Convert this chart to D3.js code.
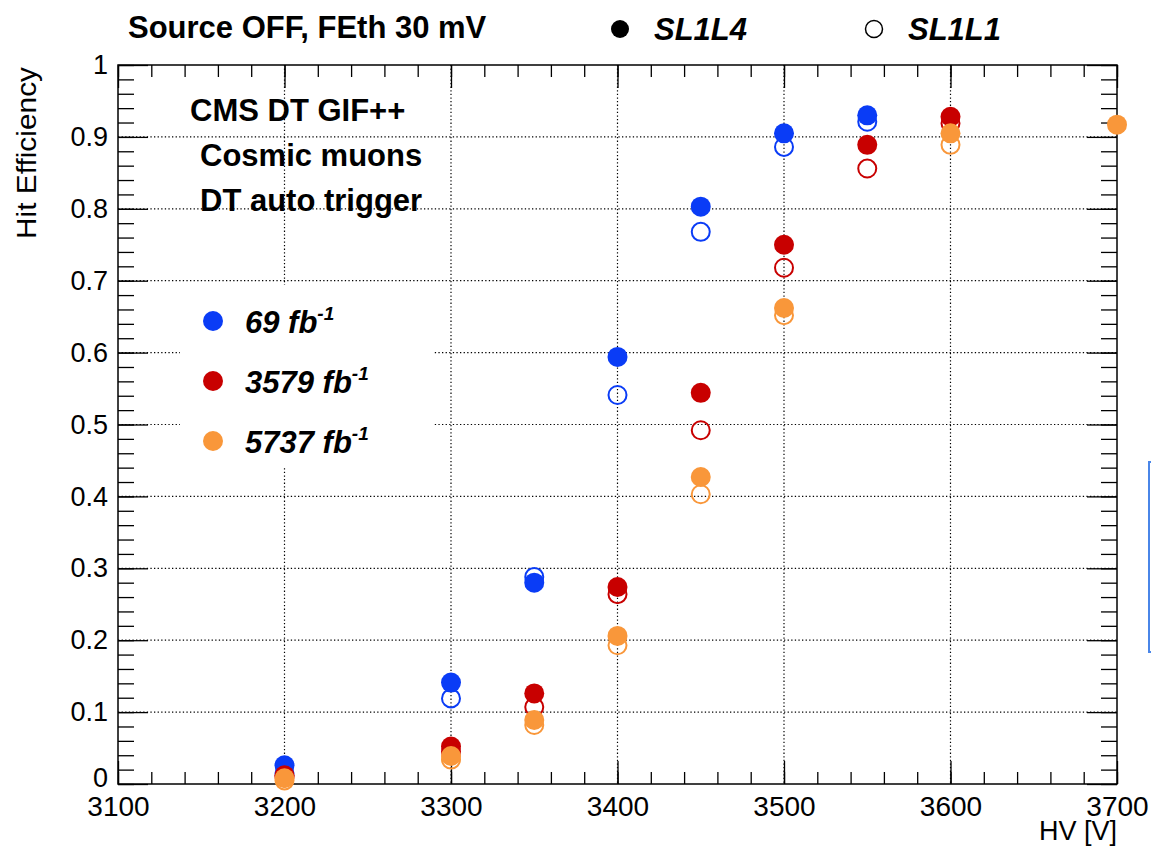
<!DOCTYPE html>
<html>
<head>
<meta charset="utf-8">
<script src="https://cdn.jsdelivr.net/npm/d3@7"></script>
<style>
  body { margin: 0; background: #fff; }
  svg text { font-family: "Liberation Sans", Arial, Helvetica, sans-serif; }
</style>
</head>
<body>
<div id="chart"></div>
<script>
// HV scan points (V)
const hv = [3200, 3300, 3350, 3400, 3450, 3500, 3550, 3600, 3700];

// hit efficiency, SL1L4 (filled) and SL1L1 (open), null = not measured
const eff69_L4   = [0.026, 0.141, 0.280, 0.594, 0.803, 0.905, 0.930, null, null];
const eff69_L1   = [0.015, 0.119, 0.288, 0.541, 0.768, 0.886, 0.921, null, null];
const eff3579_L4 = [0.012, 0.052, 0.126, 0.274, 0.544, 0.750, 0.889, 0.928, null];
const eff3579_L1 = [0.010, 0.045, 0.107, 0.264, 0.492, 0.718, 0.856, 0.919, null];
const eff5737_L4 = [0.008, 0.039, 0.089, 0.206, 0.427, 0.662, null, 0.905, 0.917];
const eff5737_L1 = [0.005, 0.034, 0.082, 0.193, 0.403, 0.652, null, 0.889, null];

const doseLabels = ["69", "3579", "5737"];
const doseColors = ["#0a3cf6", "#c80000", "#f9973a"];

const xMajor = [3100, 3200, 3300, 3400, 3500, 3600, 3700];
const yMajor = [0, 0.1, 0.2, 0.3, 0.4, 0.5, 0.6, 0.7, 0.8, 0.9, 1];

const W = 1151, H = 846;
const svg = d3.select("#chart").append("svg")
  .attr("width", W).attr("height", H)
  .style("background", "#fff");

const x = d3.scaleLinear().domain([3100, 3700]).range([118, 1117]);
const y = d3.scaleLinear().domain([0, 1]).range([784, 65]);

// dotted grid
const grid = svg.append("g").attr("class", "grid");
grid.selectAll("line.gx")
  .data(xMajor.slice(1, -1)).enter().append("line")
  .attr("x1", d => x(d)).attr("x2", d => x(d))
  .attr("y1", y(1)).attr("y2", y(0));
grid.selectAll("line.gy")
  .data(yMajor.slice(1, -1)).enter().append("line")
  .attr("x1", x(3100)).attr("x2", x(3700))
  .attr("y1", d => y(d)).attr("y2", d => y(d));
grid.selectAll("line")
  .attr("stroke", "#000").attr("stroke-width", 1.2)
  .attr("stroke-dasharray", "1.3,2.3");

// legend box hides the grid
svg.append("rect")
  .attr("x", 180).attr("y", 285).attr("width", 253).attr("height", 183)
  .attr("fill", "#fff");

// axes, ticks pointing inward
function styleAxis(g) {
  g.select(".domain").remove();
  g.selectAll(".tick line").attr("stroke", "#000").attr("stroke-width", 1.3);
}
const minorX = d3.range(3100, 3701, 20);
const minorY = d3.range(0, 51).map(i => i / 50);

svg.append("g").attr("transform", "translate(0," + y(0) + ")")
  .call(d3.axisBottom(x).tickValues(minorX).tickSize(-12).tickFormat(""))
  .call(styleAxis);
svg.append("g").attr("transform", "translate(0," + y(0) + ")")
  .call(d3.axisBottom(x).tickValues(xMajor).tickSize(-23).tickPadding(12).tickFormat(d3.format("d")))
  .call(styleAxis)
  .selectAll("text").attr("font-size", 28).attr("fill", "#000");
svg.append("g").attr("transform", "translate(0," + y(1) + ")")
  .call(d3.axisTop(x).tickValues(minorX).tickSize(-12).tickFormat(""))
  .call(styleAxis);
svg.append("g").attr("transform", "translate(0," + y(1) + ")")
  .call(d3.axisTop(x).tickValues(xMajor).tickSize(-23).tickFormat(""))
  .call(styleAxis);

svg.append("g").attr("transform", "translate(" + x(3100) + ",0)")
  .call(d3.axisLeft(y).tickValues(minorY).tickSize(-16).tickFormat(""))
  .call(styleAxis);
const yAx = svg.append("g").attr("transform", "translate(" + x(3100) + ",0)")
  .call(d3.axisLeft(y).tickValues(yMajor).tickSize(-30).tickPadding(10).tickFormat(d3.format("~g")))
  .call(styleAxis);
yAx.selectAll("text").attr("font-size", 27).attr("fill", "#000");
// lift the "0" a little so it does not sit on "3100"
yAx.selectAll(".tick text").filter(d => d === 0).attr("dy", "0.1em");

svg.append("g").attr("transform", "translate(" + x(3700) + ",0)")
  .call(d3.axisRight(y).tickValues(minorY).tickSize(-16).tickFormat(""))
  .call(styleAxis);
svg.append("g").attr("transform", "translate(" + x(3700) + ",0)")
  .call(d3.axisRight(y).tickValues(yMajor).tickSize(-30).tickFormat(""))
  .call(styleAxis);

// frame
svg.append("rect")
  .attr("x", x(3100)).attr("y", y(1))
  .attr("width", x(3700) - x(3100)).attr("height", y(0) - y(1))
  .attr("fill", "none").attr("stroke", "#000").attr("stroke-width", 1.5);

// axis titles
svg.append("text")
  .attr("x", x(3700)).attr("y", 840)
  .attr("text-anchor", "end").attr("font-size", 27)
  .text("HV [V]");
svg.append("text")
  .attr("transform", "translate(36," + (y(1) + 2) + ") rotate(-90)")
  .attr("text-anchor", "end").attr("font-size", 27)
  .attr("textLength", 172).attr("lengthAdjust", "spacingAndGlyphs")
  .text("Hit Efficiency");

// data points: open (SL1L1) under filled (SL1L4), series in order
const series = [
  {l4: eff69_L4, l1: eff69_L1},
  {l4: eff3579_L4, l1: eff3579_L1},
  {l4: eff5737_L4, l1: eff5737_L1}
];
const pts = svg.append("g").attr("class", "points");
series.forEach((s, k) => {
  const col = doseColors[k];
  const open = hv.map((v, i) => ({hv: v, e: s.l1[i]})).filter(d => d.e !== null);
  const full = hv.map((v, i) => ({hv: v, e: s.l4[i]})).filter(d => d.e !== null);
  pts.append("g").selectAll("circle").data(open).enter().append("circle")
    .attr("cx", d => x(d.hv)).attr("cy", d => y(d.e)).attr("r", 9)
    .attr("fill", "none").attr("stroke", col).attr("stroke-width", 2);
  pts.append("g").selectAll("circle").data(full).enter().append("circle")
    .attr("cx", d => x(d.hv)).attr("cy", d => y(d.e)).attr("r", 10)
    .attr("fill", col);
});

// text block
const info = [["CMS DT GIF++", 190, 121], ["Cosmic muons", 200, 166], ["DT auto trigger", 200, 211]];
svg.append("g").selectAll("text").data(info).enter().append("text")
  .attr("x", d => d[1]).attr("y", d => d[2])
  .attr("font-size", 31).attr("font-weight", "bold")
  .text(d => d[0]);

// dose legend
const leg = svg.append("g").selectAll("g").data(doseLabels).enter().append("g")
  .attr("transform", (d, i) => "translate(0," + [321, 381, 441][i] + ")");
leg.append("circle").attr("cx", 213).attr("cy", 0).attr("r", 10)
  .attr("fill", (d, i) => doseColors[i]);
const lt = leg.append("text").attr("x", 245).attr("y", 12)
  .attr("font-size", 31).attr("font-weight", "bold").attr("font-style", "italic");
lt.append("tspan").text(d => d + " fb");
lt.append("tspan").attr("dy", -13).attr("font-size", 19).text("-1");

// top title and layer legend
svg.append("text").attr("x", 128).attr("y", 38)
  .attr("font-size", 31).attr("font-weight", "bold")
  .text("Source OFF, FEth 30 mV");
svg.append("circle").attr("cx", 620).attr("cy", 29).attr("r", 9).attr("fill", "#000");
svg.append("text").attr("x", 654).attr("y", 40)
  .attr("font-size", 31).attr("font-weight", "bold").attr("font-style", "italic")
  .text("SL1L4");
svg.append("circle").attr("cx", 874).attr("cy", 29).attr("r", 8.5)
  .attr("fill", "none").attr("stroke", "#000").attr("stroke-width", 1.5);
svg.append("text").attr("x", 908).attr("y", 40)
  .attr("font-size", 31).attr("font-weight", "bold").attr("font-style", "italic")
  .text("SL1L1");

// edge of a blue box at the right border of the screenshot
svg.append("rect").attr("x", 1149).attr("y", 462).attr("width", 10).attr("height", 190)
  .attr("fill", "none").attr("stroke", "#4a86e8").attr("stroke-width", 2);
</script>
</body>
</html>
